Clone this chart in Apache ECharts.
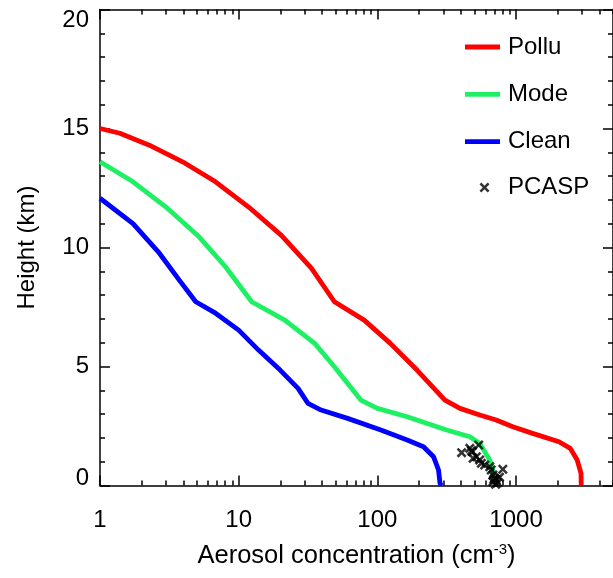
<!DOCTYPE html>
<html>
<head>
<meta charset="utf-8">
<script src="https://cdn.jsdelivr.net/npm/echarts@6/dist/echarts.min.js"></script>
<style>
html,body{margin:0;padding:0;background:#fff;}
#c{width:613px;height:578px;}
</style>
</head>
<body>
<div id="c"></div>
<script>
// ---- data (concentration in cm^-3, height in km) ----
var polluConc = [1, 1.39, 2.27, 3.94, 6.81, 11.8, 20.4, 33.4, 49.0, 80.3, 124, 193, 307, 394, 547, 719, 947, 1315, 2040, 2460, 2760, 2940, 2950];
var polluHeight = [15.0, 14.8, 14.3, 13.6, 12.76, 11.7, 10.5, 9.13, 7.72, 6.95, 5.97, 4.85, 3.59, 3.24, 2.96, 2.75, 2.47, 2.19, 1.84, 1.56, 1.07, 0.51, 0];

var modeConc = [1, 1.73, 2.99, 5.18, 8.03, 12.4, 21.5, 35.3, 49, 76, 100, 164, 316, 464, 547, 646, 702, 719];
var modeHeight = [13.6, 12.76, 11.7, 10.45, 9.19, 7.72, 6.95, 5.97, 4.99, 3.59, 3.24, 2.89, 2.33, 2.05, 1.77, 1.07, 0.37, 0];

var cleanConc = [1, 1.73, 2.68, 3.73, 4.9, 6.81, 10, 13.9, 19.9, 26.8, 31.6, 39.3, 61, 106, 164, 215, 254, 276, 283, 290];
var cleanHeight = [12.07, 11.0, 9.76, 8.63, 7.72, 7.24, 6.53, 5.69, 4.85, 4.08, 3.45, 3.17, 2.82, 2.33, 1.91, 1.63, 1.21, 0.65, 0.09, 0];

var pcaspConc = [405, 464, 477, 538, 485, 490, 518, 547, 562, 594, 646, 662, 803, 681, 702, 719, 681, 737, 712, 690, 760];
var pcaspHeight = [1.38, 1.56, 1.46, 1.70, 1.42, 1.14, 1.21, 1.07, 0.93, 0.86, 0.79, 0.65, 0.68, 0.44, 0.30, 0.23, 0.16, 0.12, 0.05, 0.25, 0.35];

var seriesNames = ['Pollu', 'Mode', 'Clean', 'PCASP'];
var xMajorTicks = [1, 10, 100, 1000];
var xMinorTicks = [2,3,4,5,6,7,8,9,20,30,40,50,60,70,80,90,200,300,400,500,600,700,800,900,2000,3000,4000,5000];

function zip(a, b) { return a.map(function (v, i) { return [v, b[i]]; }); }

var FONT = '"Liberation Sans", Arial, Helvetica, sans-serif';
var FS = 24;
var XMIN = 1, XMAX = 5000;
var crossPath = 'path://M0,1.8L1.8,0L5,3.2L8.2,0L10,1.8L6.8,5L10,8.2L8.2,10L5,6.8L1.8,10L0,8.2L3.2,5Z';

var axLine = { show: true, lineStyle: { color: '#000', width: 1.5 } };

function xAxisBase(pos) {
  return {
    type: 'log', logBase: 10, min: XMIN, max: XMAX, position: pos, gridIndex: 0,
    axisLine: axLine, splitLine: { show: false },
    axisLabel: { show: false }
  };
}

var xMain = xAxisBase('bottom');
xMain.axisTick = { show: true, inside: true, length: 10, lineStyle: { color: '#000', width: 1.5 } };
xMain.axisLabel = {
  show: true, margin: 23, color: '#000', fontSize: FS, fontFamily: FONT,
  showMaxLabel: false,
  formatter: function (v) {
    var r = Math.round(v);
    return xMajorTicks.indexOf(r) >= 0 ? String(r) : '';
  }
};
xMain.name = 'Aerosol concentration (cm{sup|-3})';
xMain.nameLocation = 'middle';
xMain.nameGap = 57;
xMain.nameTextStyle = {
  color: '#000', fontSize: 25.5, fontFamily: FONT, verticalAlign: 'top',
  rich: { sup: { fontSize: 15, color: '#000', fontFamily: FONT, verticalAlign: 'top', lineHeight: 14 } }
};

var xMinorBottom = xAxisBase('bottom');
xMinorBottom.axisLine = { show: false };
xMinorBottom.axisTick = { show: true, inside: true, length: 5, customValues: xMinorTicks, lineStyle: { color: '#000', width: 1.5 } };

var xTop = xAxisBase('top');
xTop.axisTick = { show: true, inside: true, length: 10, customValues: xMajorTicks, lineStyle: { color: '#000', width: 1.5 } };

var xMinorTop = xAxisBase('top');
xMinorTop.axisLine = { show: false };
xMinorTop.axisTick = { show: true, inside: true, length: 5, customValues: xMinorTicks, lineStyle: { color: '#000', width: 1.5 } };

var yLeft = {
  type: 'value', min: 0, max: 20, interval: 5, position: 'left',
  axisLine: axLine, splitLine: { show: false },
  axisTick: { show: true, inside: true, length: 10, lineStyle: { color: '#000', width: 1.5 } },
  minorTick: { show: true, splitNumber: 5, length: 5, lineStyle: { color: '#000', width: 1.5 } },
  axisLabel: {
    show: true, margin: 11, color: '#000', fontSize: FS, fontFamily: FONT,
    formatter: function (v) {
      if (v === 20) return '{t|20}';
      if (v === 0) return '{b|0}';
      return String(v);
    },
    rich: {
      t: { fontSize: FS, fontFamily: FONT, color: '#000', padding: [22, 0, 0, 0] },
      b: { fontSize: FS, fontFamily: FONT, color: '#000', padding: [0, 0, 15, 0] }
    }
  },
  name: 'Height (km)', nameLocation: 'middle', nameGap: 61, nameRotate: 90,
  nameTextStyle: { color: '#000', fontSize: FS, fontFamily: FONT }
};
var yRight = {
  type: 'value', min: 0, max: 20, interval: 5, position: 'right',
  axisLine: axLine, splitLine: { show: false },
  axisTick: { show: true, inside: true, length: 10, lineStyle: { color: '#000', width: 1.5 } },
  minorTick: { show: true, splitNumber: 5, length: 5, lineStyle: { color: '#000', width: 1.5 } },
  axisLabel: { show: false }
};

function lineSeries(name, color, xs, ys) {
  return {
    name: name, type: 'line', xAxisIndex: 0, yAxisIndex: 0,
    data: zip(xs, ys), symbol: 'none', smooth: false,
    lineStyle: { color: color, width: 4.8 }, itemStyle: { color: color }
  };
}

var chart = echarts.init(document.getElementById('c'), null, { renderer: 'canvas' });
chart.setOption({
  animation: false,
  backgroundColor: '#fff',
  grid: { left: 100, right: -5, top: 9.5, bottom: 92.5, containLabel: false },
  xAxis: [xMain, xMinorBottom, xTop, xMinorTop],
  yAxis: [yLeft, yRight],
  legend: [
    {
      data: seriesNames.slice(0, 3).map(function (n) { return { name: n, icon: 'rect' }; }),
      orient: 'vertical', left: 465, top: 35, padding: 0,
      itemWidth: 35, itemHeight: 4.8, itemGap: 23.3,
      textStyle: { color: '#000', fontSize: FS, fontFamily: FONT, lineHeight: 24, padding: [0, 0, 0, 3] }
    },
    {
      data: [seriesNames[3]], orient: 'vertical', left: 479.5, top: 175.5, padding: 0,
      itemWidth: 10, itemHeight: 10, itemGap: 0,
      textStyle: { color: '#000', fontSize: FS, fontFamily: FONT, lineHeight: 24, padding: [0, 0, 0, 13.5] }
    }
  ],
  series: [
    lineSeries(seriesNames[0], '#ff0000', polluConc, polluHeight),
    lineSeries(seriesNames[1], '#1ef064', modeConc, modeHeight),
    lineSeries(seriesNames[2], '#0000ff', cleanConc, cleanHeight),
    {
      name: seriesNames[3], type: 'scatter', xAxisIndex: 0, yAxisIndex: 0,
      data: zip(pcaspConc, pcaspHeight), symbol: crossPath, symbolSize: 10,
      itemStyle: { color: '#000' }, z: 5
    }
  ]
});
</script>
</body>
</html>
